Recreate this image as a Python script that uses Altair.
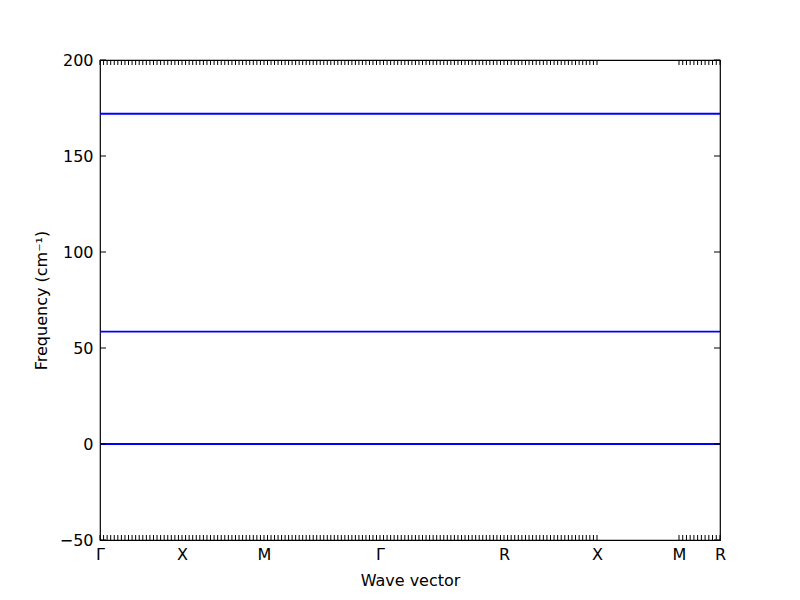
import altair as alt
import numpy as np
import pandas as pd

# High-symmetry points along the path (x position in path units) and their labels
hs_pos = [0, 82, 164, 280, 404, 497, 579, 620]
hs_labels = ["Γ", "X", "M", "Γ", "R", "X", "M", "R"]

# Sampled path segments: (start, end, number of q-points)
seg_start = [0, 82, 164, 280, 404, 579]
seg_end = [82, 164, 280, 404, 497, 620]
seg_npts = [24, 24, 34, 36, 27, 12]

# Band frequencies (cm^-1), flat across the whole path
band_ids = ["b1", "b2", "b3", "b4", "b5"]
band_freqs = [0.0, 0.0, 0.0, 58.5, 172.0]

y_ticks = [-50, 0, 50, 100, 150, 200]

# q-point grid
qx = []
for s, e, n in zip(seg_start, seg_end, seg_npts):
    qx.extend(np.linspace(s, e, n).tolist())
qx = sorted(set(round(v, 4) for v in qx))

rows = []
for b, f in zip(band_ids, band_freqs):
    for x in qx:
        rows.append({"x": x, "freq": f, "band": b})
bands = pd.DataFrame(rows)
qdf = pd.DataFrame({"x": qx})
ydf = pd.DataFrame({"y": y_ticks})

W, H = 620, 480
xscale = alt.Scale(domain=[0, 620], nice=False, zero=False)
yscale = alt.Scale(domain=[-50, 200], nice=False, zero=False)

label_expr = "''"
for p, l in zip(reversed(hs_pos), reversed(hs_labels)):
    label_expr = f"(abs(datum.value - {p}) < 0.01 ? '{l}' : {label_expr})"

lines = alt.Chart(bands).mark_line(color="#0000ff", strokeWidth=1.8, clip=True).encode(
    x=alt.X("x:Q", scale=xscale,
            axis=alt.Axis(values=hs_pos, labelExpr=label_expr, ticks=False, domain=False,
                          grid=False, title="Wave vector", labelFontSize=16,
                          titleFontSize=16, titleFontWeight="normal", labelPadding=6,
                          titlePadding=10, labelColor="black", titleColor="black",
                          labelFlush=False, labelOverlap=False,
                          labelFont="DejaVu Sans", titleFont="DejaVu Sans")),
    y=alt.Y("freq:Q", scale=yscale,
            axis=alt.Axis(values=y_ticks, ticks=False, domain=False, grid=False,
                          title="Frequency (cm⁻¹)", labelFontSize=16, titleFontSize=16,
                          titleFontWeight="normal", labelPadding=7, titlePadding=10,
                          labelColor="black", titleColor="black", labelFlush=False,
                          labelFont="DejaVu Sans", titleFont="DejaVu Sans")),
    detail="band:N",
)

top_ticks = alt.Chart(qdf).mark_rule(color="black", strokeWidth=1).encode(
    x=alt.X("x:Q", scale=xscale), y=alt.value(0), y2=alt.value(5))
bot_ticks = alt.Chart(qdf).mark_rule(color="black", strokeWidth=1).encode(
    x=alt.X("x:Q", scale=xscale), y=alt.value(H - 5), y2=alt.value(H))
left_ticks = alt.Chart(ydf).mark_rule(color="black", strokeWidth=1).encode(
    y=alt.Y("y:Q", scale=yscale), x=alt.value(0), x2=alt.value(6))
right_ticks = alt.Chart(ydf).mark_rule(color="black", strokeWidth=1).encode(
    y=alt.Y("y:Q", scale=yscale), x=alt.value(W - 6), x2=alt.value(W))

chart = alt.layer(lines, top_ticks, bot_ticks, left_ticks, right_ticks).properties(
    width=W, height=H,
    autosize=alt.AutoSizeParams(type="none"),
    padding={"left": 92, "top": 52, "right": 72, "bottom": 52},
).configure(background="white").configure_view(stroke="black", strokeWidth=1.2)

chart.save("out.html", embed_options={"renderer": "svg", "actions": False})
